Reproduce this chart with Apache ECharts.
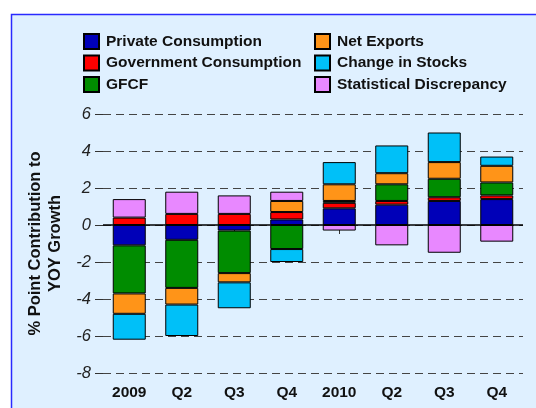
<!DOCTYPE html>
<html>
<head>
<meta charset="utf-8">
<script src="https://cdn.jsdelivr.net/npm/echarts@6/dist/echarts.min.js"></script>
<style>
  html, body { margin: 0; padding: 0; background: #fff; }
  #main { width: 536px; height: 408px; }
</style>
</head>
<body>
<div id="main"></div>
<script>
// quarters
var categories = ['2009', 'Q2', 'Q3', 'Q4', '2010', 'Q2', 'Q3', 'Q4'];

// % point contributions to YOY growth
var privateCons = [-1.1, -0.8, -0.3, 0.3, 0.9, 1.1, 1.3, 1.4];
var govCons = [0.4, 0.6, 0.6, 0.4, 0.3, 0.2, 0.2, 0.2];
var gfcf = [-2.6, -2.6, -2.3, -1.3, 0.1, 0.9, 1.0, 0.7];
var netExports = [-1.1, -0.9, -0.5, 0.6, 0.9, 0.6, 0.9, 0.9];
var stocks = [-1.4, -1.7, -1.4, -0.7, 1.2, 1.5, 1.6, 0.5];
var discrepancy = [1.0, 1.2, 1.0, 0.5, -0.3, -1.1, -1.5, -0.9];

var yTicks = [-8, -6, -4, -2, 0, 2, 4, 6];

var font = 'Liberation Sans, Arial, sans-serif';

function bar(name, data, color) {
  return {
    name: name,
    type: 'bar',
    stack: 'total',
    barWidth: 33,
    data: data,
    itemStyle: { color: color, borderColor: '#000', borderWidth: 1 }
  };
}

var series = [
  bar('Private Consumption', privateCons, '#0000b8'),
  bar('Government Consumption', govCons, '#ff0000'),
  bar('GFCF', gfcf, '#008c00'),
  bar('Net Exports', netExports, '#ff9418'),
  bar('Change in Stocks', stocks, '#00c0f8'),
  bar('Statistical Discrepancy', discrepancy, '#e888ff')
];
// solid zero line
series[0].markLine = {
  silent: true,
  symbol: 'none',
  label: { show: false },
  lineStyle: { color: '#000', type: 'solid', width: 1.5 },
  data: [{ yAxis: 0 }]
};

var legendCommon = {
  orient: 'vertical',
  top: 28,
  itemWidth: 15,
  itemHeight: 15,
  itemGap: 4.5,
  icon: 'rect',
  textStyle: { fontFamily: font, fontWeight: 'bold', fontSize: 15.5, lineHeight: 15, color: '#111', padding: [0, 0, 0, 2] },
  selectedMode: false
};

var chart = echarts.init(document.getElementById('main'));
chart.setOption({
  backgroundColor: '#fff',
  animation: false,
  graphic: [{
    type: 'rect',
    z: -10,
    shape: { x: 11.5, y: 14.5, width: 600, height: 500 },
    style: { fill: '#dff0ff', stroke: '#2a2aff', lineWidth: 1.5 }
  }],
  legend: [
    Object.assign({ left: 78, data: ['Private Consumption', 'Government Consumption', 'GFCF'] }, legendCommon),
    Object.assign({ left: 309, data: ['Net Exports', 'Change in Stocks', 'Statistical Discrepancy'] }, legendCommon)
  ],
  grid: { left: 103, right: 13, top: 114, bottom: 35 },
  xAxis: {
    type: 'category',
    data: categories,
    axisLine: { show: false },
    axisTick: { show: true, alignWithLabel: true, length: 9, lineStyle: { color: '#333' } },
    axisLabel: { fontFamily: font, fontWeight: 'bold', fontSize: 15.5, color: '#111', margin: 12 }
  },
  yAxis: {
    type: 'value',
    min: yTicks[0],
    max: yTicks[yTicks.length - 1],
    interval: 2,
    name: '% Point Contribution to\nYOY Growth',
    nameLocation: 'middle',
    nameGap: 37,
    nameTextStyle: { fontFamily: font, fontWeight: 'bold', fontSize: 16.5, color: '#111', lineHeight: 20 },
    axisLine: { show: false },
    axisTick: { show: true, length: 8, lineStyle: { color: '#333' } },
    axisLabel: { fontFamily: font, fontStyle: 'italic', fontSize: 16.5, color: '#222', margin: 12 },
    splitLine: { show: true, lineStyle: { color: '#444', type: [8, 5], width: 1 } }
  },
  series: series
});
</script>
</body>
</html>
